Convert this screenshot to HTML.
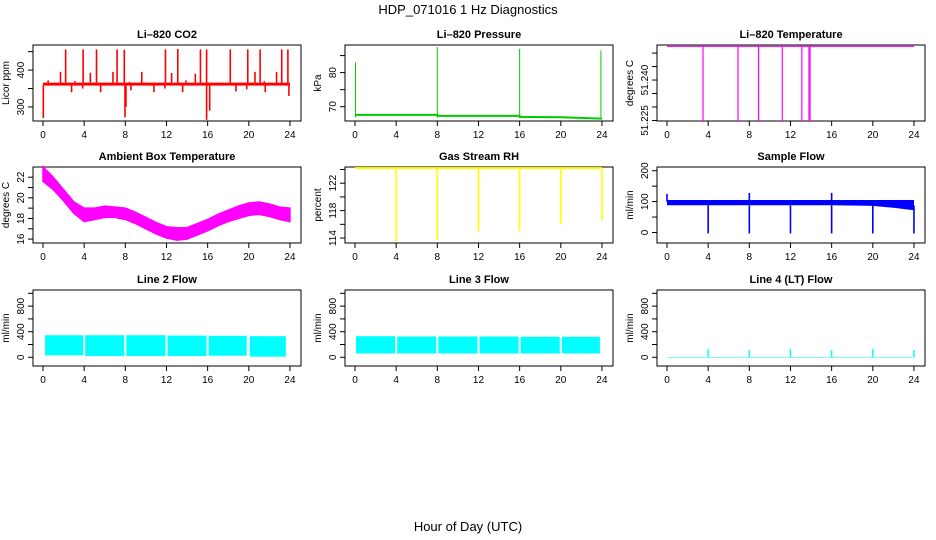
<!DOCTYPE html>
<html><head><meta charset="utf-8"><style>
body{margin:0;background:#fff;}
svg{display:block;font-family:"Liberation Sans",Arial,sans-serif;}
</style></head><body>
<svg id="c" width="936" height="540" viewBox="0 0 936 540">
<text x="468" y="14" text-anchor="middle" font-size="13">HDP_071016  1 Hz Diagnostics</text>
<text x="468" y="531" text-anchor="middle" font-size="13">Hour of Day (UTC)</text>
</svg>
<script>
// ---- data arrays ----
const hourTicks = [0,4,8,12,16,20,24];
// CO2
const co2Base = [358,366];
const co2UpHours = [2.2,3.9,5.2,7.2,7.9,11.9,13.1,15.3,15.9,18.2,19.9,21.1,23.2,23.8,1.7,4.6,6.8,9.6,12.5,14.8,20.6,22.7,0.5,3.1,8.4,13.9,21.5];
const co2UpValues = [456,456,456,456,455,456,457,456,456,456,456,456,456,456,395,393,395,395,392,390,395,395,372,370,368,372,370];
const co2DownHours = [0.03,2.78,3.85,5.6,7.97,8.06,8.55,10.78,11.85,13.57,15.9,16.2,18.75,19.8,21.6,23.9];
const co2DownValues = [270,340,350,340,272,300,345,340,350,340,265,290,342,348,340,330];
// Pressure
const presHours = [0,8,8.01,16,16.01,20,24];
const presValues = [67.6,67.6,67.3,67.3,67.0,66.9,66.5];
const presSpikeHours = [0.05,8,16,23.9];
const presSpikeValues = [83,87.5,87,86.5];
// Li-820 temperature
const tempTop = 51.2525;
const tempDropHours = [3.5,6.9,8.9,11.2,13.1,13.8,13.9];
const tempDropValues = [51.2245,51.2245,51.2245,51.2245,51.2245,51.2245,51.2245];
const tempTickLabels = ['51.225','51.240'];
// Ambient box temperature envelope
const ambHours = [0,1,2,3,4,5,6,7,8,9,10,11,12,13,14,15,16,17,18,19,20,21,22,23,24];
const ambLow = [21.6,20.8,19.7,18.5,17.7,17.9,18.1,18.1,17.9,17.5,17.0,16.5,16.1,15.9,16.0,16.4,16.8,17.3,17.7,18.0,18.3,18.4,18.2,17.9,17.7];
const ambHigh = [23.0,22.0,20.8,19.6,19.0,19.0,19.2,19.1,19.0,18.6,18.1,17.6,17.2,17.1,17.1,17.5,17.9,18.4,18.8,19.2,19.5,19.6,19.4,19.1,19.0];
// Gas stream RH
const rhTop = 124.2;
const rhDropHours = [4,8,12,16,20,24];
const rhDropValues = [113.5,113.7,115,115,116,116.5];
// Sample flow
const sfHours = [0,4,8,12,16,20,22,24];
const sfLow = [88,88,88,88,88,86,80,72];
const sfHigh = [105,105,105,105,105,105,105,105];
const sfDropHours = [4,8,12,16,20,24];
const sfDropValues = [-3,-3,-3,-3,-3,-3];
const sfSpikeHours = [0,8,16];
const sfSpikeValues = [125,128,128];
// Line 2 flow blocks
const l2Start = [0.2,4.1,8.1,12.1,16.1,20.1];
const l2End = [3.9,7.9,11.9,15.9,19.8,23.6];
const l2Low = [30,20,20,20,25,10];
const l2High = [345,345,345,340,335,330];
// Line 3 flow blocks
const l3Start = [0.1,4.1,8.1,12.1,16.1,20.1];
const l3End = [3.9,7.9,11.9,15.9,19.9,23.8];
const l3Low = [60,60,60,60,60,60];
const l3High = [330,325,325,325,320,320];
// Line 4 flow
const l4Base = 0;
const l4SpikeHours = [4,8,12,16,20,24];
const l4SpikeValues = [125,110,130,110,125,115];

// ---- drawing ----
const NS="http://www.w3.org/2000/svg";
const svg=document.getElementById('c');
function el(tag,attrs,parent){const e=document.createElementNS(NS,tag);for(const k in attrs)e.setAttribute(k,attrs[k]);(parent||svg).appendChild(e);return e;}
const colX=[33,345,657], rowY=[45,167,290], BW=268, BH=76;
function panel(col,row,title,ylab,ylim,ticks,labels,name){
  const g=el('g',{});
  
  
  const L=colX[col],T=rowY[row];
  const x=h=>L+10+h*10.29;
  const y=v=>T+BH-(v-ylim[0])/(ylim[1]-ylim[0])*BH;
  const t=el('text',{x:L+BW/2,y:T-7,'text-anchor':'middle','font-size':11,'font-weight':'bold'},g);
  t.textContent=title;
  
  
  const box=el('rect',{x:L,y:T,width:BW,height:BH,fill:'none',stroke:'#000','stroke-width':1},g);
  
  
  const yl=el('text',{transform:`translate(${L-24},${T+BH/2}) rotate(-90)`,'text-anchor':'middle','font-size':10},g);
  yl.textContent=ylab;
  
  
  hourTicks.forEach(h=>{
    el('line',{x1:x(h),x2:x(h),y1:T+BH,y2:T+BH+5,stroke:'#000'},g);
    const tx=el('text',{x:x(h),y:T+BH+17,'text-anchor':'middle','font-size':10},g);
    tx.textContent=h;
    
    
  });
  ticks.forEach(v=>{el('line',{x1:L-5,x2:L,y1:y(v),y2:y(v),stroke:'#000'},g);});
  labels.forEach(v=>{
    const tx=el('text',{transform:`translate(${L-9},${y(Number(v))}) rotate(-90)`,'text-anchor':'middle','font-size':10},g);
    tx.textContent=String(v);
    
    
  });
  return {g,x,y};
}
function vline(p,h,v1,v2,color,w,name){
  const l=el('line',{x1:p.x(h),x2:p.x(h),y1:p.y(v1),y2:p.y(v2),stroke:color,'stroke-width':w||1},p.g);
  
  
}
function band(p,h1,h2,lo,hi,color,name){
  const r=el('rect',{x:p.x(h1),y:p.y(hi),width:p.x(h2)-p.x(h1),height:p.y(lo)-p.y(hi),fill:color},p.g);
  
  
}

// CO2
let p=panel(0,0,'Li–820 CO2','Licor ppm',[262,468],[300,350,400,450],[300,400],'co2');
band(p,0,24,co2Base[0],co2Base[1],'#ff0000','co2-baseline');
co2UpHours.forEach((h,i)=>vline(p,h,co2Base[1],co2UpValues[i],'#ff0000',1.6,'co2-spike'));
co2DownHours.forEach((h,i)=>vline(p,h,co2Base[0],co2DownValues[i],'#ff0000',1.6,'co2-dip'));

// Pressure
p=panel(1,0,'Li–820 Pressure','kPa',[65.8,88.1],[70,75,80,85],[70,80],'pressure');
{let d='';presHours.forEach((h,i)=>{d+=(i?'L':'M')+p.x(h)+','+p.y(presValues[i]);});
const pl=el('path',{d,fill:'none',stroke:'#00cc00','stroke-width':2},p.g);

}
presSpikeHours.forEach((h,i)=>vline(p,h,66.8,presSpikeValues[i],'#00cc00',1,'pressure-spike'));

// Li-820 temperature
p=panel(2,0,'Li–820 Temperature','degrees C',[51.2248,51.253],[51.225,51.23,51.235,51.24,51.245,51.25],tempTickLabels,'li820-temp');
band(p,0,24,tempTop-0.0002,tempTop+0.0002,'#ff00ff','temp-level');
tempDropHours.forEach((h,i)=>vline(p,h,tempTop,tempDropValues[i],'#ff00ff',1.2,'temp-drop'));

// Ambient
p=panel(0,1,'Ambient Box Temperature','degrees C',[15.62,22.99],[16,17,18,19,20,21,22],[16,18,20,22],'ambient-temp');
{let d='';ambHours.forEach((h,i)=>{d+=(i?'L':'M')+p.x(h)+','+p.y(ambHigh[i]);});
for(let i=ambHours.length-1;i>=0;i--)d+='L'+p.x(ambHours[i])+','+p.y(ambLow[i]);
const pa=el('path',{d:d+'Z',fill:'#ff00ff',stroke:'#ff00ff','stroke-width':1.5},p.g);

}

// Gas RH
p=panel(1,1,'Gas Stream RH','percent',[113.28,124.36],[114,116,118,120,122,124],[114,118,122],'gas-rh');
band(p,0,24,rhTop-0.15,rhTop+0.15,'#ffff00','rh-level');
rhDropHours.forEach((h,i)=>vline(p,h,rhTop,rhDropValues[i],'#ffff00',1.6,'rh-drop'));

// Sample flow
p=panel(2,1,'Sample Flow','ml/min',[-34,212],[0,50,100,150,200],[0,100,200],'sample-flow');
{let d='';sfHours.forEach((h,i)=>{d+=(i?'L':'M')+p.x(h)+','+p.y(sfHigh[i]);});
for(let i=sfHours.length-1;i>=0;i--)d+='L'+p.x(sfHours[i])+','+p.y(sfLow[i]);
const ps=el('path',{d:d+'Z',fill:'#0000ff'},p.g);

}
sfDropHours.forEach((h,i)=>vline(p,h,88,sfDropValues[i],'#0000ff',1.6,'sample-flow-drop'));
sfSpikeHours.forEach((h,i)=>vline(p,h,100,sfSpikeValues[i],'#0000ff',1.6,'sample-flow-spike'));

// Line 2
p=panel(0,2,'Line 2 Flow','ml/min',[-136,1052],[0,200,400,600,800,1000],[0,400,800],'line2-flow');
l2Start.forEach((s,i)=>band(p,s,l2End[i],l2Low[i],l2High[i],'#00ffff','line2-block'));
// Line 3
p=panel(1,2,'Line 3 Flow','ml/min',[-136,1052],[0,200,400,600,800,1000],[0,400,800],'line3-flow');
l3Start.forEach((s,i)=>band(p,s,l3End[i],l3Low[i],l3High[i],'#00ffff','line3-block'));
// Line 4
p=panel(2,2,'Line 4 (LT) Flow','ml/min',[-136,1052],[0,200,400,600,800,1000],[0,400,800],'line4-flow');
band(p,0,24,l4Base-4,l4Base+4,'#00ffff','line4-baseline');
l4SpikeHours.forEach((h,i)=>vline(p,h,l4Base,l4SpikeValues[i],'#00ffff',1.5,'line4-spike'));
</script>
</body></html>
